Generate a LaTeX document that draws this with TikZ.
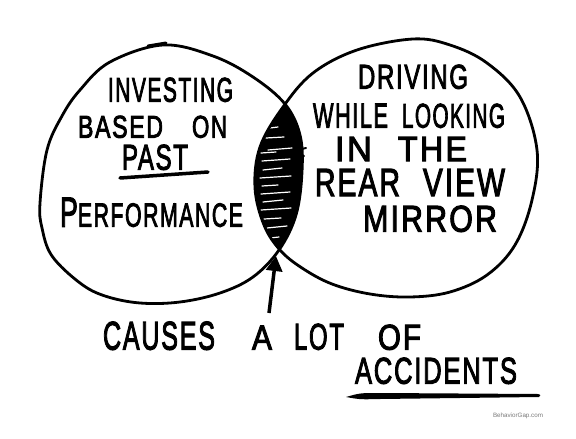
\documentclass[tikz,border=0pt]{standalone}
\usepackage{fontspec}
\usepackage{graphicx}
\newfontfamily\handfam[LetterSpace=7,FakeBold=3]{Liberation Sans}
\newfontfamily\creditfam{Liberation Sans}
\usetikzlibrary{arrows.meta}
\newcommand{\handword}[3]{\resizebox{#1pt}{#2pt}{\handfam\fontsize{35}{35}\selectfont #3}}
\definecolor{creditgray}{HTML}{7A7A7A}
\def\leftloop{plot[smooth cycle, tension=0.6] coordinates {(40,203) (47,150) (62,116) (80,90) (110,62) (163,45) (213,56) (253,77) (285,104) (300,135) (302,172) (296,215) (279,250) (253,277) (220,293) (180,302) (140,303) (105,296) (80,283) (52,256) (42,228)}}
\def\rightloop{plot[smooth cycle, tension=0.6] coordinates {(413,39) (450,45) (487,63) (520,97) (537,150) (532,200) (515,245) (487,275) (450,292) (410,297) (370,294) (332,284) (302,268) (280,250) (264,225) (255,188) (260,147) (283,107) (313,73) (357,50)}}
\tikzset{
  txt/.style={anchor=south west, inner sep=0pt, outer sep=0pt},
  loopline/.style={line width=2.8pt, line join=round},
  hatch/.style={white, line width=1.2pt, line cap=round},
}
\begin{document}
\begin{tikzpicture}[x=1pt,y=-1pt]
\fill[white] (0,0) rectangle (576,439);
\useasboundingbox (0,0) rectangle (576,439);
% lens
\begin{scope}
  \clip \leftloop;
  \fill[black] \rightloop;
  \clip \rightloop;
  \foreach \xa/\ya/\xb/\yb in {270/128/278/127, 266/138/284/137, 268/150/292/148, 261/153/276/152, 262/161/290/159, 263/170/282/168, 260/178/291/176, 262/186/278/185, 261/194/290/192, 263/202/283/200, 261/210/291/208, 264/219/281/218, 267/228/287/226, 270/238/279/237}
    \draw[hatch] (\xa,\ya) -- (\xb,\yb);
\end{scope}
\draw[line width=2pt, line cap=round] (297,150) -- (306,148);
\draw[line width=2pt, line cap=round] (297,157) -- (304,156);
% circles
\draw[loopline] \leftloop;
\draw[loopline] \rightloop;
\draw[line width=3pt, line cap=round] (148,46) -- (166,43);
% left texts
\node[txt] (inv) at (108,102) {\handword{125}{24}{INVESTING}};
\node[txt] (based) at (78,138) {\handword{85}{22}{BASED}\hspace{29pt}\handword{35}{22}{ON}};
\node[txt] (past) at (122,170) {\handword{66}{25}{PAST}};
\coordinate (pastulA) at (120,178);
\coordinate (pastulB) at (208,172);
\draw[line width=3.5pt, line cap=round] (pastulA) -- (pastulB);
\node[txt] (perf) at (60,227) {\handword{183}{29}{{\fontsize{44}{44}\selectfont P}ERFORMANCE}};
% right texts
\node[txt] (driv) at (358,89) {\handword{110}{24}{DRIVING}};
\node[txt] (while) at (313,128) {\handword{75}{24}{WHILE}\hspace{14pt}\handword{103}{24}{LOOKING}};
\node[txt] (inthe) at (335,161) {\handword{37}{24}{IN}\hspace{26pt}\handword{69}{24}{THE}};
\node[txt] (rear) at (315,196) {\handword{85}{27}{REAR}\hspace{23pt}\handword{82}{27}{VIEW}};
\node[txt] (mirror) at (363,232) {\handword{134}{26}{MIRROR}};
% bottom
\node[txt] (causes) at (103,350) {\handword{112}{28}{CAUSES}\hspace{37pt}\handword{20}{24}{A}\hspace{22pt}\handword{50}{26}{LOT}\hspace{34pt}\handword{43}{25}{OF}};
\node[txt] (acc) at (355,384) {\handword{162}{26}{ACCIDENTS}};
\fill[black] (346,397) .. controls (360,393) .. (380,393) -- (538,394) .. controls (541,395) .. (539,397) -- (380,399) .. controls (360,399.5) .. cycle;
\node[txt, text=creditgray] (credit) at (493,419) {\resizebox{50pt}{!}{\creditfam\fontsize{7}{7}\selectfont BehaviorGap.com}};
% arrow
\coordinate (arrowtail) at (269,313);
\coordinate (lensbot) at (276,256);
\draw[line width=3.5pt, -{Triangle[length=15pt,width=16pt]}] (arrowtail) -- (lensbot);
\end{tikzpicture}
\end{document}
